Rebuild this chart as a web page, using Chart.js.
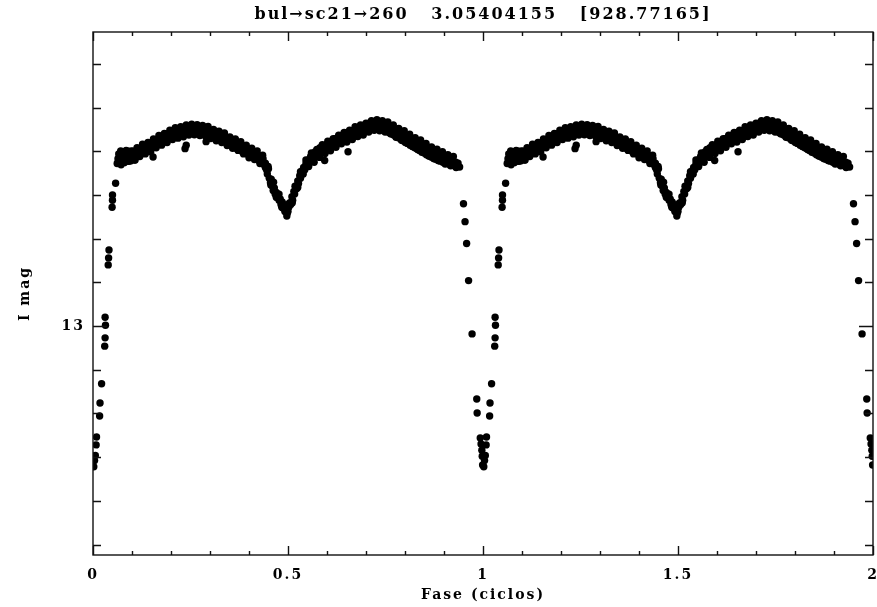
<!DOCTYPE html>
<html>
<head>
<meta charset="utf-8">
<script src="https://cdn.jsdelivr.net/npm/chart.js@4"></script>
<style>
  body { margin: 0; background: #fff; }
  canvas { display: block; }
</style>
</head>
<body>
<canvas id="lc" width="877" height="607"></canvas>
<script>
// folded light curve, one cycle; plotted twice (phase 0-1 and 1-2)
var titleText = 'bul\u2192sc21\u2192260   3.05404155   [928.77165]';
var xTickLabels = [0, 0.5, 1, 1.5, 2];
var yTickLabels = [13];
var yTicks = [12.4, 12.5, 12.6, 12.7, 12.8, 12.9, 13.0, 13.1, 13.2, 13.3, 13.4, 13.5];

var phase = [
    // egress of primary eclipse
    0.002, 0.004, 0.006, 0.008, 0.009, 0.017, 0.018, 0.022, 0.030, 0.031, 0.032, 0.031,
    0.039, 0.040, 0.041, 0.049, 0.050, 0.050, 0.058,
    // first maximum
    0.062, 0.064, 0.066, 0.068, 0.070, 0.072, 0.074, 0.076, 0.078, 0.080, 0.082, 0.084,
    0.086, 0.088, 0.090, 0.092, 0.094, 0.096, 0.098, 0.101, 0.103, 0.106, 0.108, 0.111,
    0.113, 0.116, 0.119, 0.122, 0.125, 0.128, 0.131, 0.134, 0.137, 0.140, 0.143, 0.146,
    0.149, 0.152, 0.154, 0.157, 0.160, 0.163, 0.166, 0.169, 0.172, 0.175, 0.178, 0.181,
    0.184, 0.187, 0.190, 0.193, 0.196, 0.199, 0.202, 0.205, 0.208, 0.211, 0.214, 0.217,
    0.220, 0.223, 0.226, 0.229, 0.232, 0.236, 0.239, 0.241, 0.244, 0.247, 0.250, 0.253,
    0.256, 0.259, 0.262, 0.265, 0.268, 0.271, 0.274, 0.277, 0.280, 0.283, 0.286, 0.289,
    0.290, 0.292, 0.295, 0.298, 0.301, 0.304, 0.307, 0.310, 0.313, 0.316, 0.319, 0.322,
    0.325, 0.328, 0.331, 0.334, 0.337, 0.340, 0.343, 0.346, 0.349, 0.352, 0.355, 0.358,
    0.361, 0.364, 0.367, 0.370, 0.373, 0.376, 0.379, 0.382, 0.385, 0.388, 0.391, 0.394,
    0.397, 0.400, 0.403, 0.406, 0.409, 0.412, 0.415, 0.418, 0.421, 0.424, 0.427, 0.430,
    0.433, 0.436, 0.439, 0.442, 0.445,
    // secondary eclipse
    0.447, 0.450, 0.452, 0.455, 0.457, 0.460, 0.462, 0.465, 0.467, 0.470, 0.472, 0.475,
    0.477, 0.480, 0.482, 0.485, 0.487, 0.490, 0.492, 0.495, 0.497, 0.500, 0.502, 0.505,
    0.507, 0.510, 0.512, 0.515, 0.517, 0.520, 0.522, 0.525, 0.527, 0.530, 0.532, 0.535,
    0.537, 0.540, 0.543, 0.546, 0.549, 0.552, 0.555,
    // second maximum
    0.558, 0.561, 0.564, 0.567, 0.570, 0.573, 0.576, 0.579, 0.582, 0.585, 0.588, 0.591,
    0.594, 0.597, 0.600, 0.603, 0.606, 0.609, 0.612, 0.615, 0.618, 0.621, 0.624, 0.627,
    0.630, 0.633, 0.636, 0.639, 0.642, 0.645, 0.648, 0.651, 0.654, 0.657, 0.660, 0.663,
    0.666, 0.669, 0.672, 0.675, 0.678, 0.681, 0.684, 0.687, 0.690, 0.693, 0.696, 0.699,
    0.702, 0.705, 0.708, 0.711, 0.714, 0.717, 0.720, 0.723, 0.726, 0.729, 0.732, 0.735,
    0.738, 0.741, 0.744, 0.747, 0.750, 0.753, 0.756, 0.759, 0.762, 0.765, 0.768, 0.771,
    0.774, 0.777, 0.780, 0.783, 0.786, 0.789, 0.792, 0.795, 0.798, 0.801, 0.804, 0.807,
    0.810, 0.813, 0.816, 0.819, 0.822, 0.825, 0.828, 0.831, 0.834, 0.837, 0.840, 0.843,
    0.846, 0.849, 0.852, 0.855, 0.858, 0.861, 0.864, 0.867, 0.870, 0.873, 0.876, 0.879,
    0.882, 0.885, 0.888, 0.891, 0.894, 0.897, 0.900, 0.903, 0.906, 0.909, 0.912, 0.915,
    0.918, 0.921, 0.924, 0.927, 0.930, 0.933, 0.936,
    // ingress of primary eclipse
    0.940, 0.950, 0.954, 0.958, 0.963, 0.972, 0.984, 0.985, 0.993, 0.995, 0.997, 0.998, 0.999
];

var imag = [
    13.322, 13.308, 13.296, 13.272, 13.254, 13.206, 13.176, 13.132, 13.046, 13.027, 12.998, 12.980,
    12.860, 12.844, 12.826, 12.728, 12.712, 12.700, 12.673,

    12.628, 12.617, 12.606, 12.625, 12.613, 12.631, 12.604, 12.620, 12.611, 12.626, 12.601, 12.615,
    12.623, 12.608, 12.618, 12.600, 12.613, 12.622, 12.606, 12.616, 12.600, 12.610, 12.620, 12.603,
    12.612, 12.597, 12.608, 12.595, 12.604, 12.591, 12.602, 12.588, 12.598, 12.586, 12.595, 12.583,
    12.593, 12.579, 12.613, 12.589, 12.576, 12.586, 12.573, 12.583, 12.569, 12.579, 12.567, 12.577,
    12.563, 12.574, 12.561, 12.571, 12.558, 12.569, 12.557, 12.567, 12.554, 12.565, 12.552, 12.564,
    12.551, 12.562, 12.549, 12.561, 12.549, 12.594, 12.586, 12.559, 12.547, 12.558, 12.546, 12.556,
    12.545, 12.555, 12.544, 12.554, 12.545, 12.555, 12.546, 12.556, 12.548, 12.558, 12.550, 12.560,
    12.578, 12.551, 12.561, 12.553, 12.564, 12.555, 12.566, 12.556, 12.568, 12.558, 12.570, 12.560,
    12.573, 12.563, 12.575, 12.565, 12.578, 12.568, 12.581, 12.570, 12.584, 12.574, 12.587, 12.576,
    12.589, 12.579, 12.593, 12.583, 12.595, 12.585, 12.599, 12.588, 12.601, 12.591, 12.604, 12.594,
    12.607, 12.597, 12.610, 12.600, 12.613, 12.603, 12.616, 12.606, 12.619, 12.609, 12.622, 12.613,
    12.625, 12.617, 12.631, 12.627, 12.642,

    12.652, 12.640, 12.662, 12.672, 12.664, 12.680, 12.690, 12.684, 12.698, 12.694, 12.706, 12.702,
    12.712, 12.709, 12.722, 12.716, 12.730, 12.726, 12.738, 12.734, 12.748, 12.738, 12.728, 12.718,
    12.722, 12.704, 12.712, 12.692, 12.698, 12.680, 12.686, 12.668, 12.674, 12.656, 12.662, 12.646,
    12.652, 12.637, 12.642, 12.628, 12.633, 12.620, 12.626,

    12.612, 12.619, 12.607, 12.614, 12.601, 12.610, 12.597, 12.605, 12.592, 12.602, 12.589, 12.597,
    12.621, 12.586, 12.594, 12.581, 12.590, 12.578, 12.587, 12.574, 12.584, 12.571, 12.580, 12.569,
    12.577, 12.565, 12.575, 12.563, 12.572, 12.560, 12.570, 12.558, 12.601, 12.567, 12.555, 12.565,
    12.553, 12.562, 12.550, 12.559, 12.548, 12.557, 12.545, 12.554, 12.543, 12.552, 12.541, 12.550,
    12.538, 12.548, 12.536, 12.547, 12.535, 12.545, 12.534, 12.544, 12.533, 12.543, 12.534, 12.544,
    12.535, 12.546, 12.539, 12.551, 12.543, 12.554, 12.544, 12.557, 12.547, 12.560, 12.550, 12.563,
    12.552, 12.566, 12.556, 12.569, 12.559, 12.572, 12.562, 12.576, 12.566, 12.580, 12.569, 12.582,
    12.572, 12.586, 12.575, 12.588, 12.578, 12.592, 12.581, 12.595, 12.585, 12.598, 12.588, 12.602,
    12.591, 12.604, 12.594, 12.608, 12.597, 12.610, 12.601, 12.613, 12.604, 12.616, 12.606, 12.618,
    12.609, 12.621, 12.611, 12.622, 12.613, 12.625, 12.615, 12.626, 12.617, 12.628, 12.619, 12.630,
    12.620, 12.631, 12.622, 12.633, 12.625, 12.635, 12.627,

    12.636, 12.720, 12.761, 12.811, 12.896, 13.018, 13.167, 13.199, 13.256, 13.270, 13.284, 13.298, 13.318
];

// second night of observations: the scattered edges of the band
var phaseB = [
    0.064, 0.071, 0.078, 0.085, 0.092, 0.099, 0.106, 0.113, 0.120, 0.127, 0.134, 0.141,
    0.148, 0.155, 0.162, 0.169, 0.176, 0.183, 0.190, 0.197, 0.204, 0.211, 0.218, 0.225,
    0.232, 0.239, 0.246, 0.253, 0.260, 0.267, 0.274, 0.281, 0.288, 0.295, 0.302, 0.309,
    0.316, 0.323, 0.330, 0.337, 0.344, 0.351, 0.358, 0.365, 0.372, 0.379, 0.386, 0.393,
    0.400, 0.407, 0.414, 0.421, 0.428, 0.435, 0.442,
    0.449, 0.456, 0.463, 0.470, 0.477, 0.484, 0.491, 0.498, 0.504, 0.511, 0.518, 0.525,
    0.532, 0.539, 0.546, 0.553,
    0.560, 0.567, 0.574, 0.581, 0.588, 0.595, 0.602, 0.609, 0.616, 0.623, 0.630, 0.637,
    0.644, 0.651, 0.658, 0.665, 0.672, 0.679, 0.686, 0.693, 0.700, 0.707, 0.714, 0.721,
    0.728, 0.735, 0.742, 0.749, 0.756, 0.763, 0.770, 0.777, 0.784, 0.791, 0.798, 0.805,
    0.812, 0.819, 0.826, 0.833, 0.840, 0.847, 0.854, 0.861, 0.868, 0.875, 0.882, 0.889,
    0.896, 0.903, 0.910, 0.917, 0.924, 0.931
];

var imagB = [
    12.626, 12.599, 12.622, 12.598, 12.623, 12.599, 12.620, 12.592, 12.612, 12.584, 12.606, 12.580,
    12.601, 12.572, 12.592, 12.564, 12.586, 12.559, 12.580, 12.552, 12.573, 12.546, 12.570, 12.544,
    12.567, 12.540, 12.563, 12.538, 12.562, 12.539, 12.564, 12.541, 12.565, 12.543, 12.571, 12.550,
    12.576, 12.554, 12.580, 12.558, 12.587, 12.567, 12.593, 12.572, 12.598, 12.578, 12.606, 12.586,
    12.615, 12.593, 12.619, 12.599, 12.628, 12.609, 12.637,
    12.635, 12.677, 12.671, 12.705, 12.698, 12.728, 12.722, 12.742, 12.718, 12.718, 12.680, 12.683,
    12.647, 12.652, 12.620, 12.635,
    12.604, 12.625, 12.596, 12.614, 12.585, 12.605, 12.577, 12.599, 12.571, 12.591, 12.563, 12.583,
    12.557, 12.579, 12.552, 12.573, 12.544, 12.566, 12.540, 12.563, 12.536, 12.556, 12.530, 12.552,
    12.528, 12.553, 12.530, 12.556, 12.533, 12.560, 12.540, 12.568, 12.548, 12.575, 12.553, 12.581,
    12.561, 12.589, 12.569, 12.596, 12.574, 12.602, 12.582, 12.611, 12.590, 12.617, 12.595, 12.622,
    12.601, 12.629, 12.608, 12.633, 12.612, 12.637
];

var points = [];
for (var c = 0; c < 2; c++) {
    for (var i = 0; i < phase.length; i++) points.push({ x: phase[i] + c, y: imag[i] });
    for (var j = 0; j < phaseB.length; j++) points.push({ x: phaseB[j] + c, y: imagB[j] });
}

function isLabel(list, v) {
    return list.some(function (t) { return Math.abs(t - v) < 1e-6; });
}

var serif = 'DejaVu Serif';

// the PGPLOT lettering is wide, so spread the glyphs a little
var spacing = {
    id: 'spacing',
    beforeLayout: function (chart) { chart.ctx.letterSpacing = '2px'; },
    beforeDraw: function (chart) { chart.ctx.letterSpacing = '2px'; }
};

// frame with inward tick marks on all four sides, like the original plot
var frameTicks = {
    id: 'frameTicks',
    afterDatasetsDraw: function (chart) {
        var ctx = chart.ctx, a = chart.chartArea;
        var xs = chart.scales.x, ys = chart.scales.y;
        ctx.save();
        ctx.strokeStyle = '#111';
        ctx.lineWidth = 1.4;
        ctx.strokeRect(a.left, a.top, a.right - a.left, a.bottom - a.top);
        ctx.beginPath();
        xs.ticks.forEach(function (t) {
            var px = Math.round(xs.getPixelForValue(t.value)) + 0.5;
            var len = isLabel(xTickLabels, t.value) ? 9 : 4;
            ctx.moveTo(px, a.bottom); ctx.lineTo(px, a.bottom - len);
            ctx.moveTo(px, a.top); ctx.lineTo(px, a.top + len);
        });
        ys.ticks.forEach(function (t) {
            var py = Math.round(ys.getPixelForValue(t.value)) + 0.5;
            var len = isLabel(yTickLabels, t.value) ? 14 : 8;
            ctx.moveTo(a.left, py); ctx.lineTo(a.left + len, py);
            ctx.moveTo(a.right, py); ctx.lineTo(a.right - len, py);
        });
        ctx.stroke();
        ctx.restore();
    }
};

function noSidePadding(s) {
    s.paddingLeft = 0;
    s.paddingRight = 0;
}

var ctx = document.getElementById('lc').getContext('2d');
var chart = new Chart(ctx, {
    type: 'scatter',
    data: {
        datasets: [{
            data: points,
            pointRadius: 3.7,
            pointHoverRadius: 3.7,
            pointBackgroundColor: '#000',
            pointBorderWidth: 0
        }]
    },
    options: {
        responsive: false,
        animation: false,
        layout: { padding: { left: 0, right: 4, top: 0, bottom: 0 } },
        plugins: {
            legend: { display: false },
            tooltip: { enabled: false }
        },
        scales: {
            x: {
                type: 'linear',
                position: 'bottom',
                min: 0,
                max: 2,
                grid: { display: false, drawTicks: false },
                border: { display: false },
                ticks: {
                    stepSize: 0.1,
                    autoSkip: false,
                    maxRotation: 0,
                    padding: 12,
                    color: '#000',
                    font: { family: serif, size: 14, weight: 'bold' },
                    callback: function (v) { return isLabel(xTickLabels, v) ? String(+v.toFixed(1)) : ''; }
                },
                title: {
                    display: true,
                    text: 'Fase (ciclos)',
                    color: '#000',
                    font: { family: serif, size: 14, weight: 'bold' },
                    padding: { top: 0, bottom: 3 }
                },
                afterFit: function (s) { s.height = 52; noSidePadding(s); }
            },
            // top edge: carries the plot title, centred over the plot frame
            top: {
                type: 'linear',
                position: 'top',
                min: 0,
                max: 2,
                grid: { display: false, drawTicks: false },
                border: { display: false },
                ticks: { display: false },
                title: {
                    display: true,
                    text: titleText,
                    color: '#000',
                    font: { family: serif, size: 16, weight: 'bold' },
                    padding: { top: 5, bottom: 0 }
                },
                afterFit: function (s) { s.height = 32; noSidePadding(s); }
            },
            y: {
                type: 'linear',
                reverse: true,
                min: 12.327,
                max: 13.524,
                grid: { display: false, drawTicks: false },
                border: { display: false },
                afterBuildTicks: function (s) {
                    s.ticks = yTicks.map(function (v) { return { value: v }; });
                },
                ticks: {
                    autoSkip: false,
                    padding: 8,
                    color: '#000',
                    font: { family: serif, size: 14, weight: 'bold' },
                    callback: function (v) { return isLabel(yTickLabels, v) ? String(Math.round(v)) : ''; }
                },
                title: {
                    display: true,
                    text: 'I mag',
                    color: '#000',
                    font: { family: serif, size: 14, weight: 'bold' },
                    padding: { top: 17, bottom: 0 }
                },
                afterFit: function (s) { s.width = 93; }
            }
        }
    },
    plugins: [spacing, frameTicks]
});
</script>
</body>
</html>
